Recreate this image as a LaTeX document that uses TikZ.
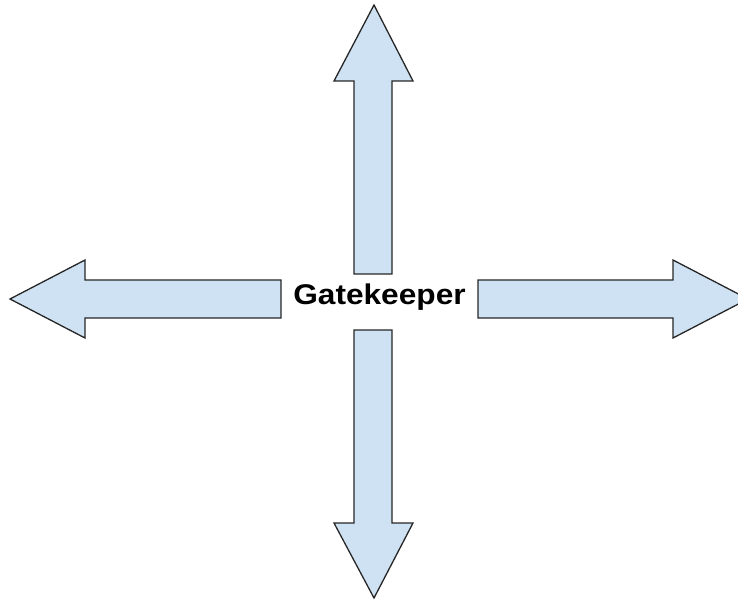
\documentclass[tikz,border=0pt]{standalone}
\usepackage{fontspec}
\setmainfont{Liberation Sans}
\begin{document}
\begin{tikzpicture}[x=1pt,y=-1pt,
  arrowbody/.style={draw=black!85, fill={rgb,255:red,207;green,226;blue,243}, line width=1.3pt, line join=miter},
  label/.style={font=\fontsize{28.5}{30}\selectfont\bfseries, inner sep=0pt, anchor=base}]
  \clip (0,0) rectangle (738,601);
  % up arrow
  \draw[arrowbody] (354,274) -- (354,81) -- (334,81) -- (374,5) -- (413,81) -- (392,81) -- (392,274) -- cycle;
  % down arrow
  \draw[arrowbody] (354,330) -- (354,523) -- (334,523) -- (374,598) -- (413,523) -- (392,523) -- (392,330) -- cycle;
  % left arrow
  \draw[arrowbody] (281,280) -- (85,280) -- (85,260) -- (10,299) -- (85,338) -- (85,318) -- (281,318) -- cycle;
  % right arrow, its tip runs past the frame
  \draw[arrowbody] (478,280) -- (673,280) -- (673,260) -- (748,299) -- (673,338) -- (673,318) -- (478,318) -- cycle;
  % centre label
  \node[label] (gk) at (379.5,305) {\scalebox{1.11}[1]{Gatekeeper}};
\end{tikzpicture}
\end{document}
